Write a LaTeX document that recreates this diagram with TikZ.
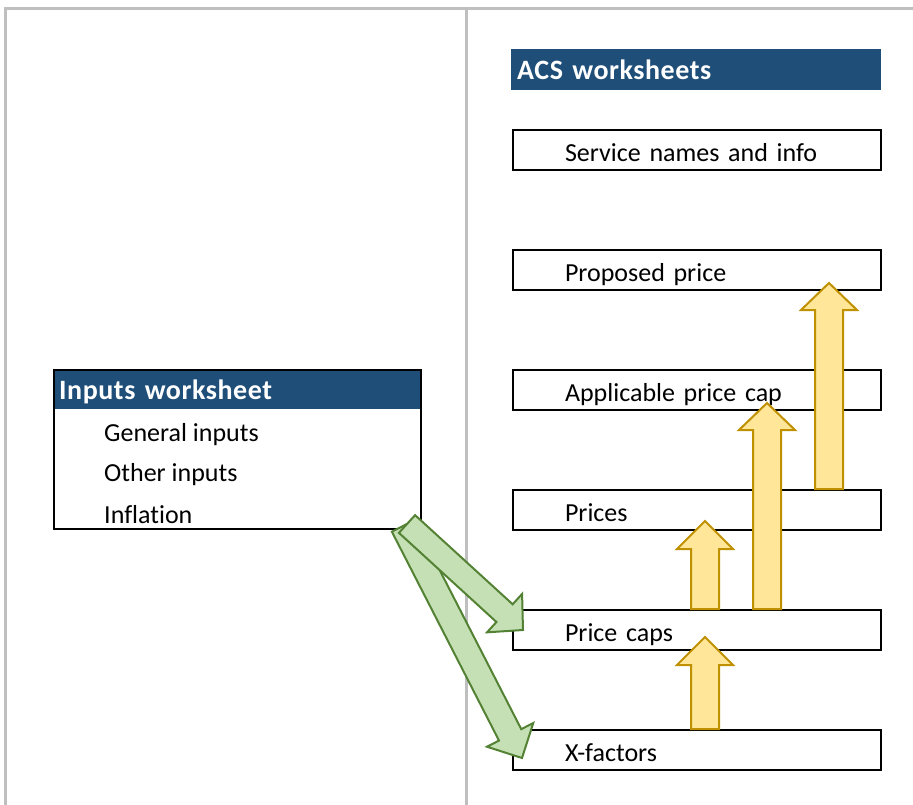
\documentclass[tikz,border=0pt]{standalone}
\usepackage{fontspec}
\setmainfont[Ligatures=NoCommon]{Carlito}
\newfontfamily\headfont[Ligatures=NoCommon, LetterSpace=2]{Carlito}
\usetikzlibrary{calc,positioning}
\definecolor{sheetblue}{RGB}{31,78,121}
\definecolor{framegray}{RGB}{191,191,191}
\definecolor{feedfill}{RGB}{197,224,180}
\definecolor{feedline}{RGB}{84,130,53}
\definecolor{stepfill}{RGB}{255,230,153}
\definecolor{stepline}{RGB}{191,144,0}

\begin{document}
\begin{tikzpicture}[x=1pt, y=-1pt,
    wsbox/.style={draw, line width=2pt, anchor=north west, minimum height=40pt,
      text width=264pt, inner xsep=52pt, inner ysep=0pt, align=left,
      text height=23pt, text depth=0pt, font=\fontsize{26}{31}\selectfont},
    wshead/.style={fill=sheetblue, text=white, anchor=north west, minimum height=41pt,
      inner xsep=6pt, inner ysep=0pt, align=left, text height=22pt, text depth=2pt,
      font=\headfont\bfseries\fontsize{28}{33}\selectfont},
    item/.style={anchor=west, inner sep=0pt, font=\fontsize{26}{31}\selectfont},
    feed/.style={fill=feedfill, draw=feedline, line width=2pt, line join=miter},
    stepflow/.style={fill=stepfill, draw=stepline, line width=2pt, line join=miter}]
  \newcommand{\blockarrow}[6]{% style, tail, tip, half shaft, half head, head length
    \coordinate (hb) at ($#3!#6!#2$);
    \draw[#1] ($#2!#4!90:#3$) -- ($(hb)!#4!90:#3$) -- ($(hb)!#5!90:#3$) -- #3
      -- ($(hb)!#5!-90:#3$) -- ($(hb)!#4!-90:#3$) -- ($#2!#4!-90:#3$) -- cycle;}
  \useasboundingbox (0,0) rectangle (913,805);
  % ================================================================== frame
  \draw[framegray, line width=3pt] (5,805) -- (5,9) -- (913,9);
  \draw[framegray, line width=3pt] (466,9) -- (466,805);
  % ================================================================== inputs worksheet
  \node[wshead, text width=355pt, minimum height=40pt] (inhead) at (53,369) {Inputs worksheet};
  \node[item] (ingen) at (104,435) {General inputs};
  \node[item] (inother) at (104,475) {Other inputs};
  \node[item] (ininfl) at (104,515) {Inflation};
  \node[draw, line width=2pt, anchor=north west, minimum width=367pt, minimum height=159pt,
    inner sep=0pt] (inputs) at (53,369) {};
  % ================================================================== ACS worksheets
  \node[wshead, text width=358pt] (acshead) at (511,49) {ACS worksheets};
  \node[wsbox] (svc) at (512,129) {Service names and info};
  \node[wsbox] (proposed) at (512,249) {Proposed price};
  \node[wsbox] (applic) at (512,369) {Applicable price cap};
  \node[wsbox] (prices) at (512,489) {Prices};
  \node[wsbox] (pcaps) at (512,609) {Price caps};
  \node[wsbox] (xfac) at (512,729) {X-factors};
  % ================================================================== flows
  \blockarrow{stepflow}{($(pcaps.north west)+(193,0)$)}{($(prices.south west)+(193,-10)$)}{14pt}{28pt}{28pt}
  \blockarrow{stepflow}{($(pcaps.north west)+(255,0)$)}{($(applic.south west)+(255,-8)$)}{14pt}{28pt}{27pt}
  \blockarrow{stepflow}{($(prices.north west)+(317,0)$)}{($(proposed.south west)+(317,-8)$)}{14pt}{28pt}{27pt}
  \blockarrow{stepflow}{($(xfac.north west)+(193,0)$)}{($(pcaps.north west)+(193,28)$)}{14pt}{28pt}{28pt}
  \blockarrow{feed}{([xshift=-19pt, yshift=4pt]inputs.south east)}{([xshift=10pt, yshift=-8pt]xfac.west)}{12.5pt}{26pt}{26pt}
  \blockarrow{feed}{([xshift=-15pt, yshift=6pt]inputs.south east)}{([xshift=11pt]pcaps.west)}{12pt}{26pt}{25pt}
\end{tikzpicture}
\end{document}
